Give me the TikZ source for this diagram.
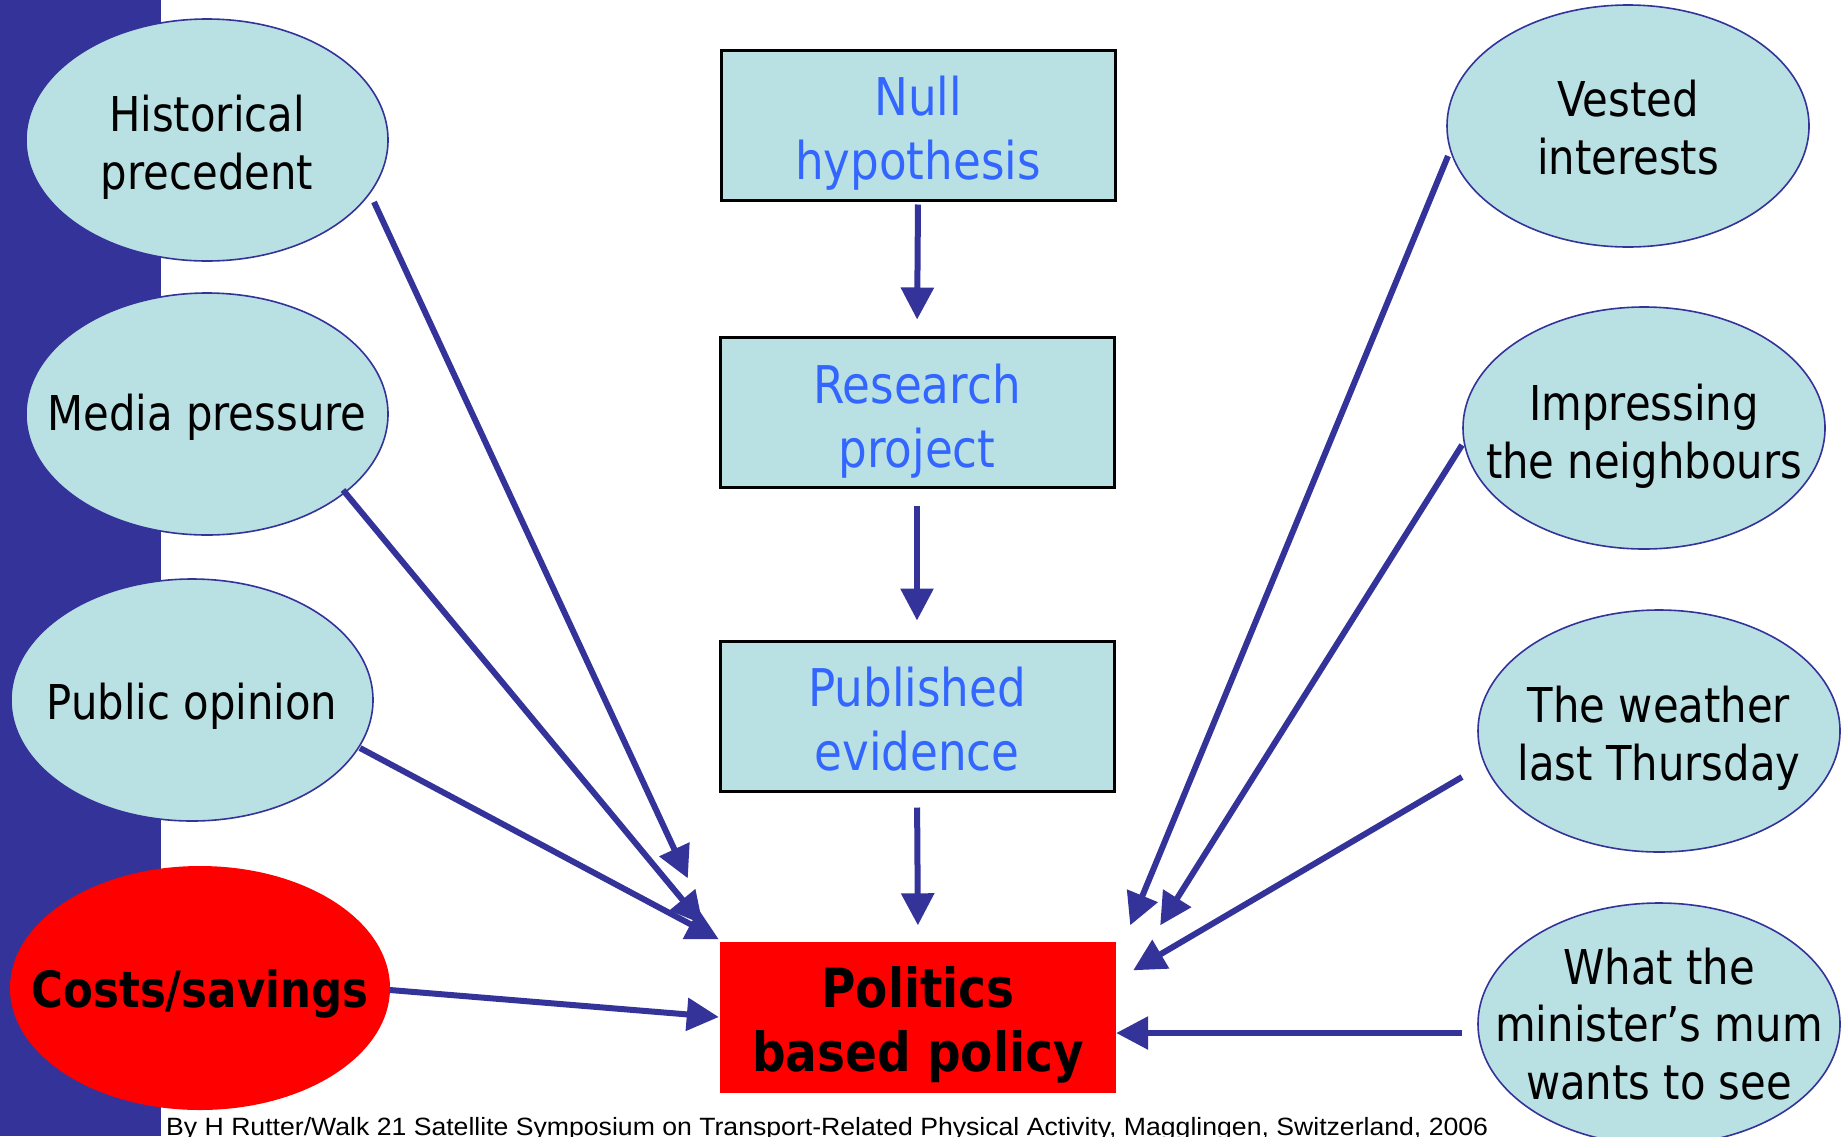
\documentclass[tikz,border=0pt]{standalone}
\usepackage{fontspec}
\setmainfont{DejaVu Sans}[FakeStretch=0.87]
\newfontfamily\capfont{Liberation Sans}
\usetikzlibrary{shapes.geometric,arrows.meta,calc}
\definecolor{navy}{RGB}{51,51,153}
\definecolor{pale}{RGB}{185,224,227}
\definecolor{tblue}{RGB}{51,102,255}
\definecolor{pred}{RGB}{255,0,0}
\begin{document}
\begin{tikzpicture}[x=1pt,y=-1pt,
  oval/.style={ellipse, draw=navy, line width=1.6pt, fill=pale,
    minimum width=362pt, minimum height=242pt, inner sep=0pt},
  otext/.style={align=center, inner sep=0pt, text=black,
    font=\fontsize{48}{57.5}\selectfont},
  sbox/.style={draw=black, line width=3pt, fill=pale,
    minimum width=394pt, minimum height=150pt, inner sep=0pt},
  btext/.style={align=center, inner sep=0pt, text=tblue,
    font=\fontsize{52}{64}\selectfont},
  arr/.style={draw=navy, line width=6pt,
    -{Triangle[length=32pt,width=32pt]}},
]
\useasboundingbox (0,0) rectangle (1843,1136);
\fill[white] (0,0) rectangle (1843,1136);
\fill[navy] (0,0) rectangle (161,1136);

% left ellipses
\node[oval] (hist) at (207,140) {};
\node[otext] (histT) at (207,147.4) {Historical\\precedent};
\node[oval] (media) at (207,414) {};
\node[otext] (mediaT) at (207,417.4) {Media pressure};
\node[oval] (pub) at (192,700) {};
\node[otext] (pubT) at (192,706.4) {Public opinion};
\node[ellipse, fill=pred, minimum width=380pt, minimum height=244pt, inner sep=0pt] (cost) at (200,988) {};
\node[otext, font=\fontsize{50}{60}\selectfont\bfseries] (costT) at (200,993.9) {Costs/savings};

% right ellipses
\node[oval] (vest) at (1628,126) {};
\node[otext] (vestT) at (1628,127.5) {Vested\\interests};
\node[oval] (imp) at (1644,428) {};
\node[otext] (impT) at (1644,436.4) {Impressing\\the neighbours};
\node[oval] (wea) at (1659,731) {};
\node[otext] (weaT) at (1659,738.4) {The weather\\last Thursday};
\node[oval] (mum) at (1659,1024) {};
\node[otext] (mumT) at (1659,1023.7) {What the\\minister’s mum\\wants to see};

% central boxes
\node[sbox] (null) at (918,125) {};
\node[btext] (nullT) at (918,132.9) {Null\\hypothesis};
\node[sbox] (res) at (917,412) {};
\node[btext] (resT) at (917,420.9) {Research\\project};
\node[sbox] (publ) at (917,716) {};
\node[btext] (publT) at (917,718.8) {Published\\evidence};
\node[fill=pred, minimum width=396pt, minimum height=151pt, inner sep=0pt] (pol) at (918,1017) {};
\node[align=center, inner sep=0pt, font=\fontsize{54}{64}\selectfont\bfseries] (polT) at (918,1024.9) {Politics\\based policy};

% vertical arrows
\draw[arr, shorten <=3pt, shorten >=16pt] (null.south) -- (res.north);
\draw[arr, shorten <=17pt, shorten >=19pt] (res.south) -- (publ.north);
\draw[arr, shorten <=15pt, shorten >=16pt] (publ.south) -- (pol.north);

% start points
\coordinate (s1) at ($(hist)+(167,62)$);
\coordinate (s2) at ($(media)+(136,76)$);
\coordinate (s3) at ($(pub)+(168,48)$);
\coordinate (s4) at ($(cost)+(190,2)$);
\coordinate (s5) at ($(vest)+(-180,30)$);
\coordinate (s6) at ($(imp)+(-182,17)$);
\coordinate (s7) at ($(wea)+(-197,46)$);
\coordinate (s8) at ($(mum)+(-197,9)$);
% tips
\coordinate (t1) at ($(pol.north west)+(-32,-63)$);
\coordinate (t2) at ($(pol.north west)+(-17,-17)$);
\coordinate (t3) at ($(pol.north west)+(-1,-2)$);
\coordinate (t4) at ($(pol.west)+(-1,0)$);
\coordinate (t5) at ($(pol.north east)+(14,-16)$);
\coordinate (t6) at ($(pol.north east)+(44,-16)$);
\coordinate (t7) at ($(pol.north east)+(17,29)$);
\coordinate (t8) at ($(pol.east)+(0,16)$);

\draw[arr] (s1) -- (t1);
\draw[arr] (s2) -- (t2);
\draw[arr] (s3) -- (t3);
\draw[arr] (s4) -- (t4);
\draw[arr] (s5) -- (t5);
\draw[arr] (s6) -- (t6);
\draw[arr] (s7) -- (t7);
\draw[arr] (s8) -- (t8);

% caption
\node[anchor=base west, inner sep=0pt, font=\capfont\fontsize{25}{29}\selectfont] (cap) at (166,1135)
  {\scalebox{1.065}[1]{By H Rutter/Walk 21 Satellite Symposium on Transport-Related Physical Activity, Magglingen, Switzerland, 2006}};
\end{tikzpicture}
\end{document}
